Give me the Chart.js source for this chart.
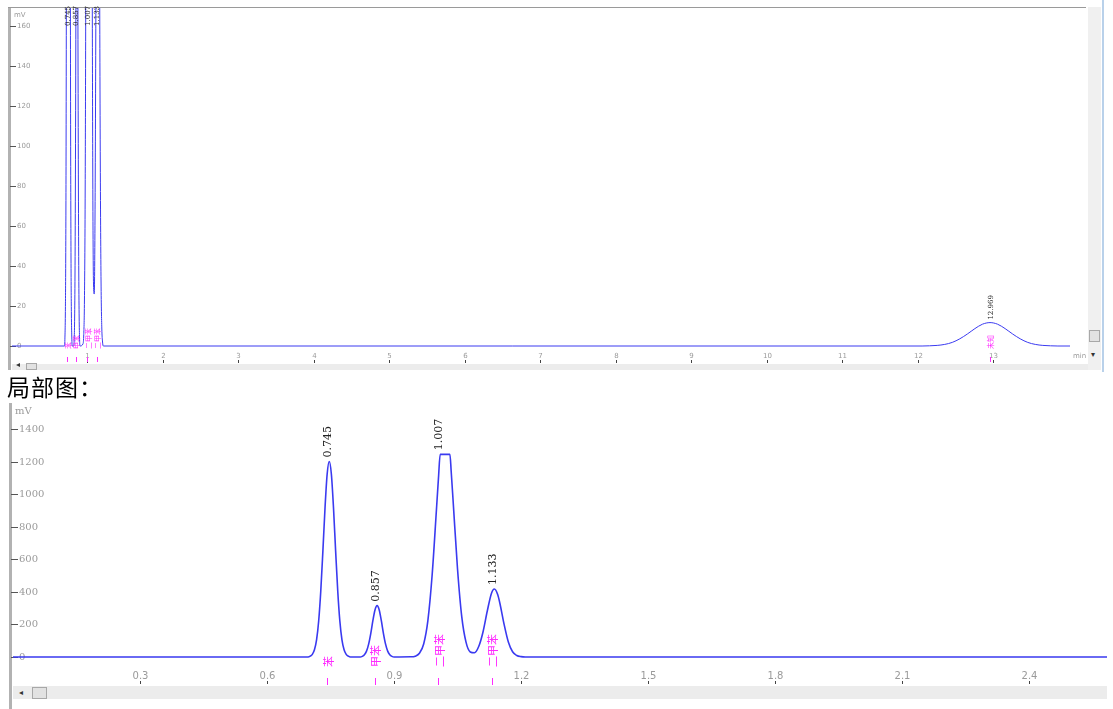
<!DOCTYPE html>
<html>
<head>
<meta charset="utf-8">
<script src="https://cdn.jsdelivr.net/npm/chart.js@4.4.1/dist/chart.umd.min.js"></script>
<style>
  body { margin: 0; background: #fff; width: 1113px; height: 709px; position: relative; overflow: hidden; }
  .box { position: absolute; }
  #topBox { left: 0; top: 0; width: 1086px; height: 370px; }
  #zoomBox { left: 0; top: 400px; width: 1113px; height: 309px; }
  .title { position: absolute; left: 7px; top: 372px; font: 23px "Noto Sans CJK SC"; color: #000; line-height: 28px; letter-spacing: 1px; }
  .bar { position: absolute; background: #ececec; }
  .thumb { position: absolute; background: #e2e2e2; border: 1px solid #a8a8a8; box-sizing: border-box; }
  .arrow { position: absolute; font: 8px "DejaVu Sans"; color: #333; }
</style>
</head>
<body>
<div class="box" id="topBox"><canvas id="topChart"></canvas></div>
<div class="title">局部图：</div>
<div class="box" id="zoomBox"><canvas id="zoomChart"></canvas></div>

<!-- scroll bars of the viewer -->
<div class="bar" style="left:12px;top:364px;width:1076px;height:6px;"></div>
<div class="thumb" style="left:26px;top:363px;width:11px;height:7px;"></div>
<div class="arrow" style="left:16px;top:360px;">◂</div>
<div class="bar" style="left:1088px;top:7px;width:13px;height:363px;background:#f0f0f0;"></div>
<div class="thumb" style="left:1089px;top:330px;width:11px;height:12px;"></div>
<div class="arrow" style="left:1091px;top:350px;">▾</div>
<div class="bar" style="left:1102px;top:0;width:2px;height:372px;background:#b9d1ea;"></div>
<div class="bar" style="left:13px;top:686px;width:1094px;height:13px;"></div>
<div class="thumb" style="left:32px;top:687px;width:15px;height:12px;"></div>
<div class="arrow" style="left:19px;top:688px;">◂</div>

<script>
// chromatogram, retention time (min) and detector signal (mV)
const times = [0, 0.697, 0.702, 0.707, 0.712, 0.717, 0.722, 0.727, 0.732, 0.737, 0.742, 0.747, 0.752, 0.757, 0.762, 0.767, 0.772, 0.777, 0.782, 0.787, 0.792, 0.797,
  0.820, 0.825, 0.830, 0.835, 0.840, 0.845, 0.850, 0.855, 0.860, 0.865, 0.870, 0.875, 0.880, 0.885, 0.890, 0.895, 0.900,
  0.94, 0.95, 0.96, 0.97, 0.98, 0.99, 1.00, 1.005, 1.009, 1.032, 1.035, 1.04, 1.05, 1.06, 1.07, 1.08, 1.09, 1.10, 1.11, 1.12, 1.13, 1.137, 1.145, 1.15, 1.16, 1.17, 1.18, 1.19, 1.20, 1.21,
  12.06, 12.16, 12.26, 12.36, 12.46, 12.56, 12.66, 12.76, 12.86, 12.96, 13.06, 13.16, 13.26, 13.36, 13.46, 13.56, 13.66, 13.76, 13.86, 14.1];
const signal = [0, 0, 5, 16, 44, 105, 221, 407, 653, 916, 1122, 1200, 1122, 916, 653, 407, 221, 105, 44, 16, 5, 0,
  0, 4, 14, 36, 79, 144, 223, 289, 315, 289, 223, 144, 79, 36, 14, 4, 0,
  1, 5, 23, 80, 225, 503, 898, 1101, 1244, 1244, 1139, 939, 539, 246, 91, 31, 26, 64, 152, 279, 390, 417, 382, 330, 200, 92, 32, 9, 2, 0,
  0, 0.1, 0.3, 0.8, 1.8, 3.6, 6.0, 8.7, 10.9, 11.7, 10.9, 8.7, 6.0, 3.6, 1.8, 0.8, 0.3, 0.1, 0, 0];

const peakTimes = [0.745, 0.857, 1.007, 1.133, 12.969];
const peakLabels = ['0.745', '0.857', '1.007', '1.133', '12.969'];
const peakNames = ['苯', '甲苯', '二甲苯', '二甲苯', '未知'];

const topYTicks = [0, 20, 40, 60, 80, 100, 120, 140, 160];
const topXTicks = [1, 2, 3, 4, 5, 6, 7, 8, 9, 10, 11, 12, 13];
const zoomYTicks = [0, 200, 400, 600, 800, 1000, 1200, 1400];
const zoomXTicks = [0.3, 0.6, 0.9, 1.2, 1.5, 1.8, 2.1, 2.4];

const lineColor = '#3a3af0';
const pink = '#ff2bff';

function apexOf(t) {
  let m = 0;
  times.forEach((tt, i) => { if (Math.abs(tt - t) < 0.05 && signal[i] > m) m = signal[i]; });
  return m;
}

function vtext(ctx, text, x, y) {
  ctx.save();
  ctx.translate(x, y);
  ctx.rotate(-Math.PI / 2);
  ctx.fillText(text, 0, 0);
  ctx.restore();
}

// axes, tick marks, peak labels drawn on top of the library scales
function chromPlugin(s) {
  return {
    id: 'chrom',
    beforeDatasetsDraw(chart) {
      const { ctx, chartArea: a, scales: { x, y } } = chart;
      ctx.save();
      ctx.fillStyle = '#b2b2b2';
      ctx.fillRect(a.left - 4, s.frameTop, 3, chart.height - s.frameTop);
      if (s.topLine) {
        ctx.fillStyle = '#9a9a9a';
        ctx.fillRect(a.left - 4, a.top - 1, chart.width, 1);
      }
      // y axis
      ctx.font = s.yFont;
      ctx.textAlign = 'left';
      ctx.textBaseline = 'middle';
      s.yTicks.forEach(v => {
        const py = Math.round(y.getPixelForValue(v)) + 0.5;
        ctx.strokeStyle = '#555';
        ctx.lineWidth = 1;
        ctx.beginPath(); ctx.moveTo(a.left - 2, py); ctx.lineTo(a.left + s.dash, py); ctx.stroke();
        ctx.fillStyle = '#9a9a9a';
        ctx.fillText(String(v), a.left + s.dash + 1, py);
      });
      ctx.fillText('mV', a.left + 2, a.top + s.mvOffset);
      // x axis
      ctx.font = s.xFont;
      ctx.textAlign = 'center';
      ctx.textBaseline = 'alphabetic';
      s.xTicks.forEach(v => {
        const px = Math.round(x.getPixelForValue(v)) + 0.5;
        ctx.fillStyle = '#9a9a9a';
        ctx.fillText(String(v), px, a.bottom - s.xLabelUp);
        ctx.strokeStyle = '#444';
        ctx.beginPath(); ctx.moveTo(px, a.bottom - s.xTickLen); ctx.lineTo(px, a.bottom - 1); ctx.stroke();
      });
      if (s.unit) {
        ctx.textAlign = 'left';
        ctx.fillText(s.unit, a.right + 3, a.bottom - s.xLabelUp);
      }
      ctx.restore();
    },
    afterDatasetsDraw(chart) {
      const { ctx, chartArea: a, scales: { x, y } } = chart;
      ctx.save();
      peakTimes.forEach((t, i) => {
        if (t < x.min || t > x.max) return;
        const px = x.getPixelForValue(t);
        let py = y.getPixelForValue(apexOf(t));
        py = Math.max(py, a.top + s.labelRoom);
        ctx.fillStyle = '#222';
        ctx.font = s.labelFont;
        ctx.textAlign = 'left';
        ctx.textBaseline = 'middle';
        vtext(ctx, peakLabels[i], px, py - s.labelGap);
        ctx.fillStyle = pink;
        ctx.font = s.nameFont;
        vtext(ctx, peakNames[i], px, y.getPixelForValue(0) + s.nameDrop);
        ctx.strokeStyle = pink;
        ctx.lineWidth = 1;
        const tx = Math.round(px) - 0.5;
        ctx.beginPath(); ctx.moveTo(tx, a.bottom - s.pinkTick[0]); ctx.lineTo(tx, a.bottom - s.pinkTick[1]); ctx.stroke();
      });
      ctx.restore();
    }
  };
}

function points() {
  return times.map((t, i) => ({ x: t, y: signal[i] }));
}

function makeChart(id, s) {
  return new Chart(document.getElementById(id), {
    type: 'line',
    data: {
      datasets: [{
        data: points(),
        borderColor: lineColor,
        borderWidth: s.lineWidth,
        pointRadius: 0,
        cubicInterpolationMode: 'monotone',
        fill: false
      }]
    },
    options: {
      responsive: true,
      maintainAspectRatio: false,
      animation: false,
      layout: { padding: s.padding },
      plugins: { legend: { display: false }, tooltip: { enabled: false } },
      scales: {
        x: { type: 'linear', display: false, min: s.xMin, max: s.xMax },
        y: { type: 'linear', display: false, min: s.yMin, max: s.yMax }
      }
    },
    plugins: [chromPlugin(s)]
  });
}

makeChart('topChart', {
  padding: { left: 12, right: 16, top: 8, bottom: 6 },
  xMin: 0, xMax: 14.02, yMin: -9, yMax: 169,
  lineWidth: 1,
  frameTop: 7, topLine: true,
  yTicks: topYTicks, xTicks: topXTicks,
  yFont: '7px "DejaVu Sans"', xFont: '7px "DejaVu Sans"',
  dash: 4, mvOffset: 7,
  xLabelUp: 6, xTickLen: 4, unit: 'min',
  labelFont: '7px "DejaVu Serif"', labelRoom: 21, labelGap: 3,
  nameFont: '7px "Noto Sans CJK SC"', nameDrop: 3,
  pinkTick: [7, 2]
});

makeChart('zoomChart', {
  padding: { left: 13, right: 6, top: 5, bottom: 24 },
  xMin: 0, xMax: 2.584, yMin: -172, yMax: 1547,
  lineWidth: 1.6,
  frameTop: 3, topLine: false,
  yTicks: zoomYTicks, xTicks: zoomXTicks,
  yFont: '10px "DejaVu Serif"', xFont: '10px "DejaVu Sans"',
  dash: 5, mvOffset: 6,
  xLabelUp: 6, xTickLen: 4, unit: '',
  labelFont: '11px "DejaVu Serif"', labelRoom: 30, labelGap: 4,
  nameFont: '11px "Noto Sans CJK SC"', nameDrop: 10,
  pinkTick: [7, 0]
});
</script>
</body>
</html>
